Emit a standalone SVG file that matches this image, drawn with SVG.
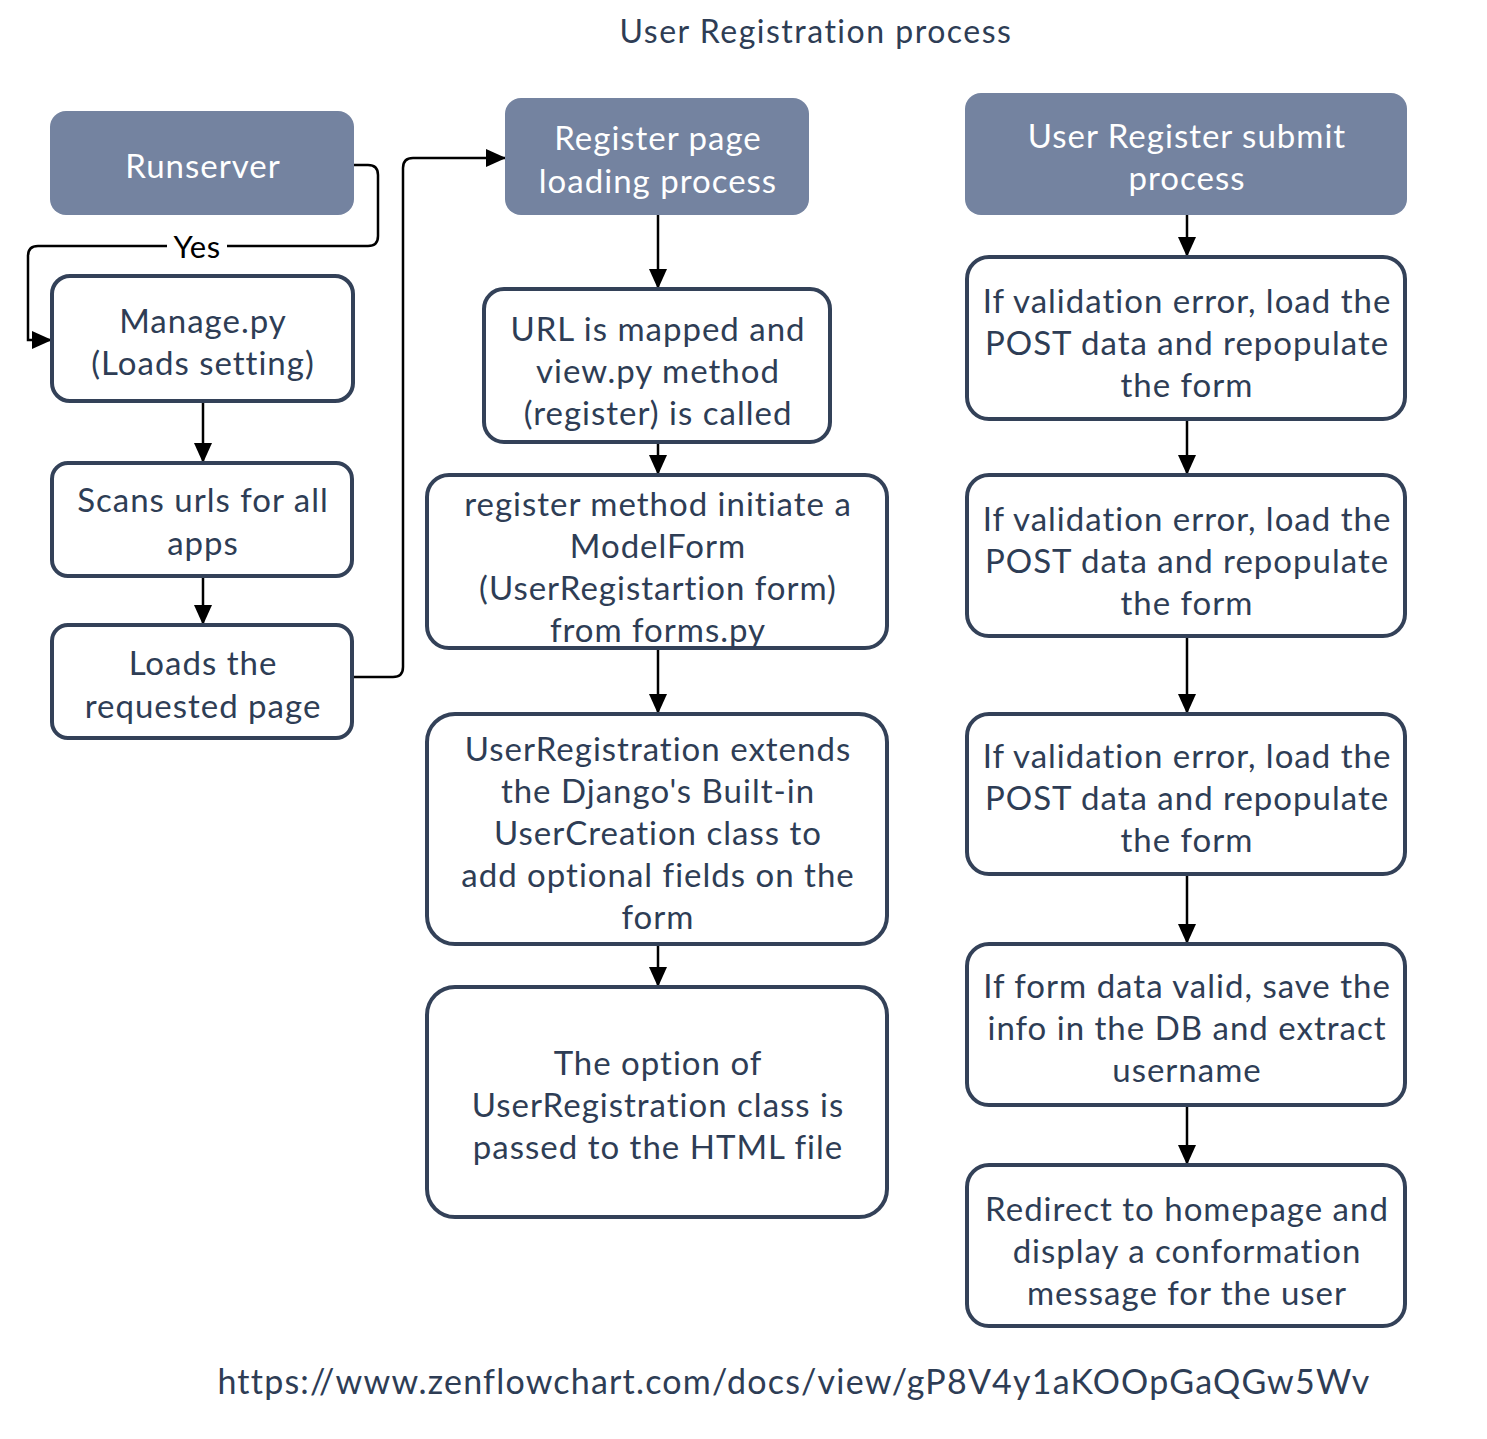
<svg xmlns="http://www.w3.org/2000/svg" width="1487" height="1439" viewBox="0 0 1487 1439">
<defs>
<marker id="ah" markerWidth="20" markerHeight="18" refX="19" refY="9" orient="auto" markerUnits="userSpaceOnUse" viewBox="0 0 20 18">
<path d="M0,0 L20,9 L0,18 z" fill="#000"/>
</marker>
<style>
.t{font-family:Lato,"Open Sans",sans-serif;font-size:33px;letter-spacing:1px;fill:#2e3d55;text-anchor:middle;dominant-baseline:central}
.w{fill:#ffffff}
.hd{fill:#7483a0;stroke:none}
.bx{fill:#ffffff;stroke:#334158;stroke-width:4}
.c{fill:none;stroke:#000;stroke-width:2.5;marker-end:url(#ah)}
</style>
</defs>
<rect width="1487" height="1439" fill="#fff"/>
<text class="t" x="816" y="30" style="font-size:32px;letter-spacing:1.5px">User Registration process</text>

<g id="connectors">
<path class="c" d="M354,165 H368 Q378,165 378,175 V236 Q378,246 368,246 H38 Q28,246 28,256 V340 H51" />
<path class="c" d="M352,677 H393 Q403,677 403,667 V168 Q403,158 413,158 H505" />
<path class="c" d="M203,401 V462"/>
<path class="c" d="M203,576 V624"/>
<path class="c" d="M658,215 V288"/>
<path class="c" d="M658,442 V474"/>
<path class="c" d="M658,648 V713"/>
<path class="c" d="M658,944 V986"/>
<path class="c" d="M1187,215 V256"/>
<path class="c" d="M1187,419 V474"/>
<path class="c" d="M1187,636 V713"/>
<path class="c" d="M1187,874 V943"/>
<path class="c" d="M1187,1105 V1164"/>
<rect x="167" y="230" width="60" height="32" fill="#fff"/>
<text x="197" y="246" style="font-family:Lato,sans-serif;font-size:31px;letter-spacing:0.5px;fill:#000;text-anchor:middle;dominant-baseline:central">Yes</text>
</g>

<g id="runserver"><rect class="hd" x="50" y="111" width="304" height="104" rx="16"/><text class="t w" x="203" y="165">Runserver</text></g>
<g id="manage"><rect class="bx" x="52" y="276" width="301" height="125" rx="18"/><text class="t" x="203" y="320">Manage.py</text><text class="t" x="203" y="362">(Loads setting)</text></g>
<g id="scans"><rect class="bx" x="52" y="463" width="300" height="113" rx="16"/><text class="t" x="203" y="499">Scans urls for all</text><text class="t" x="203" y="542">apps</text></g>
<g id="loads"><rect class="bx" x="52" y="625" width="300" height="113" rx="16"/><text class="t" x="203" y="662">Loads the</text><text class="t" x="203" y="705">requested page</text></g>

<g id="regpage"><rect class="hd" x="505" y="98" width="304" height="117" rx="16"/><text class="t w" x="658" y="137">Register page</text><text class="t w" x="658" y="180">loading process</text></g>
<g id="urlmapped"><rect class="bx" x="484" y="289" width="346" height="153" rx="20"/><text class="t" x="658" y="328">URL is mapped and</text><text class="t" x="658" y="370">view.py method</text><text class="t" x="658" y="412">(register) is called</text></g>
<g id="regmethod"><rect class="bx" x="427" y="475" width="460" height="173" rx="22"/><text class="t" x="658" y="503">register method initiate a</text><text class="t" x="658" y="545">ModelForm</text><text class="t" x="658" y="587">(UserRegistartion form)</text><text class="t" x="658" y="629">from forms.py</text></g>
<g id="userreg"><rect class="bx" x="427" y="714" width="460" height="230" rx="28"/><text class="t" x="658" y="748">UserRegistration extends</text><text class="t" x="658" y="790">the Django's Built-in</text><text class="t" x="658" y="832">UserCreation class to</text><text class="t" x="658" y="874">add optional fields on the</text><text class="t" x="658" y="916">form</text></g>
<g id="option"><rect class="bx" x="427" y="987" width="460" height="230" rx="28"/><text class="t" x="658" y="1062">The option of</text><text class="t" x="658" y="1104">UserRegistration class is</text><text class="t" x="658" y="1146">passed to the HTML file</text></g>

<g id="submit"><rect class="hd" x="965" y="93" width="442" height="122" rx="16"/><text class="t w" x="1187" y="135">User Register submit</text><text class="t w" x="1187" y="177">process</text></g>
<g id="valid1"><rect class="bx" x="967" y="257" width="438" height="162" rx="22"/><text class="t" x="1187" y="300">If validation error, load the</text><text class="t" x="1187" y="342">POST data and repopulate</text><text class="t" x="1187" y="384">the form</text></g>
<g id="valid2"><rect class="bx" x="967" y="475" width="438" height="161" rx="22"/><text class="t" x="1187" y="518">If validation error, load the</text><text class="t" x="1187" y="560">POST data and repopulate</text><text class="t" x="1187" y="602">the form</text></g>
<g id="valid3"><rect class="bx" x="967" y="714" width="438" height="160" rx="22"/><text class="t" x="1187" y="755">If validation error, load the</text><text class="t" x="1187" y="797">POST data and repopulate</text><text class="t" x="1187" y="839">the form</text></g>
<g id="save"><rect class="bx" x="967" y="944" width="438" height="161" rx="22"/><text class="t" x="1187" y="985">If form data valid, save the</text><text class="t" x="1187" y="1027">info in the DB and extract</text><text class="t" x="1187" y="1069">username</text></g>
<g id="redirect"><rect class="bx" x="967" y="1165" width="438" height="161" rx="22"/><text class="t" x="1187" y="1208">Redirect to homepage and</text><text class="t" x="1187" y="1250">display a conformation</text><text class="t" x="1187" y="1292">message for the user</text></g>

<text class="t" x="794" y="1380" style="font-size:34px;letter-spacing:1.2px">https://www.zenflowchart.com/docs/view/gP8V4y1aKOOpGaQGw5Wv</text>
</svg>
